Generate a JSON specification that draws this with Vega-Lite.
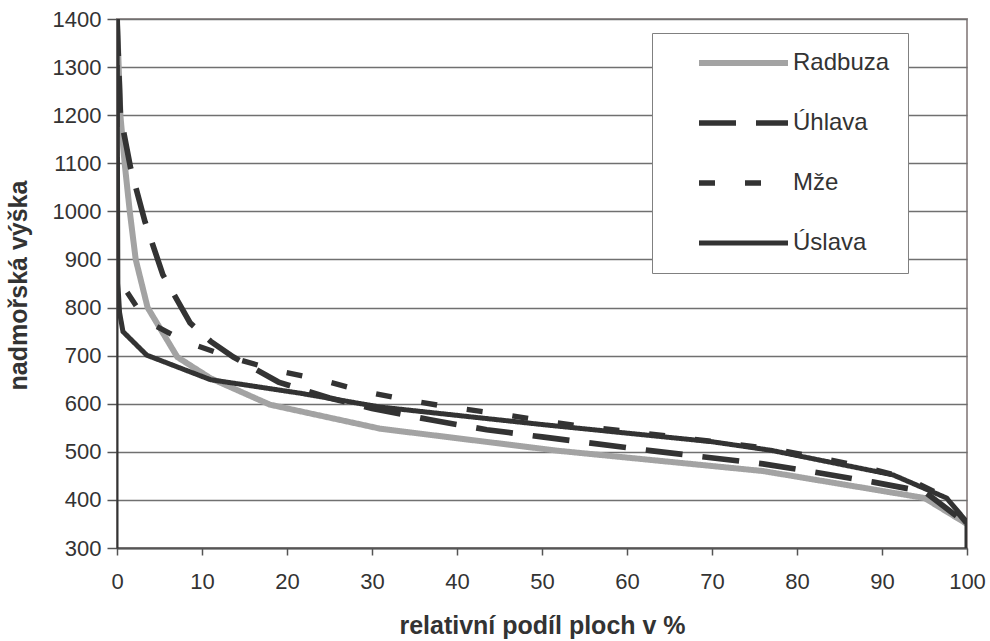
{
  "$schema": "https://vega.github.io/schema/vega-lite/v6.json",
  "width": 850,
  "height": 529,
  "autosize": {"type": "none"},
  "padding": {"left": 117, "top": 19, "right": 23, "bottom": 93},
  "background": "white",
  "config": {
    "font": "Liberation Sans",
    "view": {"stroke": "#9d9595", "strokeWidth": 2},
    "axis": {"labelColor": "#333", "titleColor": "#333", "labelFontSize": 22, "titleFontSize": 25, "titleFontWeight": "bold", "labelFont": "Liberation Sans", "titleFont": "Liberation Sans"},
    "legend": {"labelFont": "Liberation Sans"}
  },
  "data": {
    "values": [
      {"river": "Radbuza", "i": 0, "p": 0, "h": 1400},
      {"river": "Radbuza", "i": 1, "p": 0.2, "h": 1300},
      {"river": "Radbuza", "i": 2, "p": 0.4, "h": 1200},
      {"river": "Radbuza", "i": 3, "p": 0.9, "h": 1100},
      {"river": "Radbuza", "i": 4, "p": 1.5, "h": 1000},
      {"river": "Radbuza", "i": 5, "p": 2.2, "h": 900},
      {"river": "Radbuza", "i": 6, "p": 3.6, "h": 800},
      {"river": "Radbuza", "i": 7, "p": 5.3, "h": 750},
      {"river": "Radbuza", "i": 8, "p": 7.1, "h": 697},
      {"river": "Radbuza", "i": 9, "p": 11, "h": 653},
      {"river": "Radbuza", "i": 10, "p": 18, "h": 598},
      {"river": "Radbuza", "i": 11, "p": 31, "h": 548},
      {"river": "Radbuza", "i": 12, "p": 52, "h": 502},
      {"river": "Radbuza", "i": 13, "p": 76, "h": 460},
      {"river": "Radbuza", "i": 14, "p": 95, "h": 404},
      {"river": "Radbuza", "i": 15, "p": 100, "h": 350},

      {"river": "Úhlava", "i": 0, "p": 0, "h": 1400},
      {"river": "Úhlava", "i": 1, "p": 0.4, "h": 1200},
      {"river": "Úhlava", "i": 2, "p": 1.6, "h": 1090},
      {"river": "Úhlava", "i": 3, "p": 3.3, "h": 978},
      {"river": "Úhlava", "i": 4, "p": 5.4, "h": 868},
      {"river": "Úhlava", "i": 5, "p": 8.6, "h": 768},
      {"river": "Úhlava", "i": 6, "p": 11, "h": 730},
      {"river": "Úhlava", "i": 7, "p": 13.7, "h": 697},
      {"river": "Úhlava", "i": 8, "p": 19, "h": 645},
      {"river": "Úhlava", "i": 9, "p": 25, "h": 612},
      {"river": "Úhlava", "i": 10, "p": 30, "h": 590},
      {"river": "Úhlava", "i": 11, "p": 37, "h": 566},
      {"river": "Úhlava", "i": 12, "p": 43.5, "h": 546},
      {"river": "Úhlava", "i": 13, "p": 50, "h": 531},
      {"river": "Úhlava", "i": 14, "p": 63, "h": 502},
      {"river": "Úhlava", "i": 15, "p": 76, "h": 475},
      {"river": "Úhlava", "i": 16, "p": 82, "h": 458},
      {"river": "Úhlava", "i": 17, "p": 89, "h": 437},
      {"river": "Úhlava", "i": 18, "p": 95, "h": 417},
      {"river": "Úhlava", "i": 19, "p": 100, "h": 350},

      {"river": "Mže", "i": 0, "p": 0, "h": 1400},
      {"river": "Mže", "i": 1, "p": 0, "h": 870},
      {"river": "Mže", "i": 2, "p": 0.3, "h": 862},
      {"river": "Mže", "i": 3, "p": 1, "h": 837},
      {"river": "Mže", "i": 4, "p": 2.8, "h": 789},
      {"river": "Mže", "i": 5, "p": 4.5, "h": 762},
      {"river": "Mže", "i": 6, "p": 8.2, "h": 728},
      {"river": "Mže", "i": 7, "p": 13.3, "h": 697},
      {"river": "Mže", "i": 8, "p": 18.6, "h": 670},
      {"river": "Mže", "i": 9, "p": 23.9, "h": 650},
      {"river": "Mže", "i": 10, "p": 29, "h": 626},
      {"river": "Mže", "i": 11, "p": 34, "h": 608},
      {"river": "Mže", "i": 12, "p": 39.5, "h": 592},
      {"river": "Mže", "i": 13, "p": 45, "h": 579},
      {"river": "Mže", "i": 14, "p": 50.4, "h": 564},
      {"river": "Mže", "i": 15, "p": 55.6, "h": 551},
      {"river": "Mže", "i": 16, "p": 61, "h": 541},
      {"river": "Mže", "i": 17, "p": 66.5, "h": 529},
      {"river": "Mže", "i": 18, "p": 71.8, "h": 518},
      {"river": "Mže", "i": 19, "p": 77.2, "h": 506},
      {"river": "Mže", "i": 20, "p": 82.3, "h": 489},
      {"river": "Mže", "i": 21, "p": 87.8, "h": 469},
      {"river": "Mže", "i": 22, "p": 93, "h": 445},
      {"river": "Mže", "i": 23, "p": 97.5, "h": 405},
      {"river": "Mže", "i": 24, "p": 100, "h": 350},

      {"river": "Úslava", "i": 0, "p": 0, "h": 1400},
      {"river": "Úslava", "i": 1, "p": 0.1, "h": 850},
      {"river": "Úslava", "i": 2, "p": 0.3, "h": 790},
      {"river": "Úslava", "i": 3, "p": 0.7, "h": 750},
      {"river": "Úslava", "i": 4, "p": 3.5, "h": 701},
      {"river": "Úslava", "i": 5, "p": 11, "h": 650},
      {"river": "Úslava", "i": 6, "p": 21.5, "h": 622},
      {"river": "Úslava", "i": 7, "p": 31, "h": 593},
      {"river": "Úslava", "i": 8, "p": 50.4, "h": 556},
      {"river": "Úslava", "i": 9, "p": 70, "h": 521},
      {"river": "Úslava", "i": 10, "p": 77, "h": 503},
      {"river": "Úslava", "i": 11, "p": 91.3, "h": 452},
      {"river": "Úslava", "i": 12, "p": 97.6, "h": 404},
      {"river": "Úslava", "i": 13, "p": 100, "h": 354},
      {"river": "Úslava", "i": 14, "p": 100, "h": 300}
    ]
  },
  "mark": {"type": "line", "clip": true},
  "encoding": {
    "x": {
      "field": "p", "type": "quantitative",
      "scale": {"domain": [0, 100], "nice": false, "zero": false},
      "axis": {
        "title": "relativní podíl ploch v %",
        "values": [0, 10, 20, 30, 40, 50, 60, 70, 80, 90, 100],
        "format": "d",
        "grid": false,
        "domainColor": "#555", "domainWidth": 2,
        "tickColor": "#555", "tickSize": 7, "tickWidth": 1.5,
        "labelPadding": 16, "labelFlush": false,
        "titleBaseline": "middle", "titleY": 77, "titleX": 425, "titleAnchor": "middle"
      }
    },
    "y": {
      "field": "h", "type": "quantitative",
      "scale": {"domain": [300, 1400], "nice": false, "zero": false},
      "axis": {
        "title": "nadmořská výška",
        "values": [300, 400, 500, 600, 700, 800, 900, 1000, 1100, 1200, 1300, 1400],
        "format": "d",
        "grid": true, "gridColor": "#707070", "gridWidth": 1.5,
        "domainColor": "#333", "domainWidth": 2,
        "tickColor": "#555", "tickSize": 10, "tickWidth": 1.5,
        "labelPadding": 6, "labelFlush": false,
        "titleX": -86, "titleY": 266, "titleBaseline": "bottom"
      }
    },
    "color": {
      "field": "river", "type": "nominal",
      "scale": {"domain": ["Radbuza", "Úhlava", "Mže", "Úslava"], "range": ["#a3a3a3", "#333333", "#333333", "#333333"]},
      "legend": {
        "title": null,
        "orient": "none", "legendX": 535, "legendY": 14,
        "symbolType": "stroke", "symbolSize": 7921,
        "clipHeight": 24, "rowPadding": 36,
        "padding": 18, "symbolOffset": 26, "labelOffset": 2,
        "labelFontSize": 24, "labelColor": "#333",
        "labelExpr": "datum.label + '\u00a0\u00a0\u00a0\u00a0\u00a0'",
        "strokeColor": "#808080", "fillColor": "white", "cornerRadius": 0
      }
    },
    "strokeDash": {
      "field": "river", "type": "nominal",
      "scale": {"domain": ["Radbuza", "Úhlava", "Mže", "Úslava"], "range": [[1, 0], [37, 20], [16, 30], [1, 0]]}
    },
    "strokeWidth": {
      "field": "river", "type": "nominal",
      "scale": {"domain": ["Radbuza", "Úhlava", "Mže", "Úslava"], "range": [6, 5, 7, 4]}
    },
    "order": {"field": "i", "type": "quantitative"}
  }
}
